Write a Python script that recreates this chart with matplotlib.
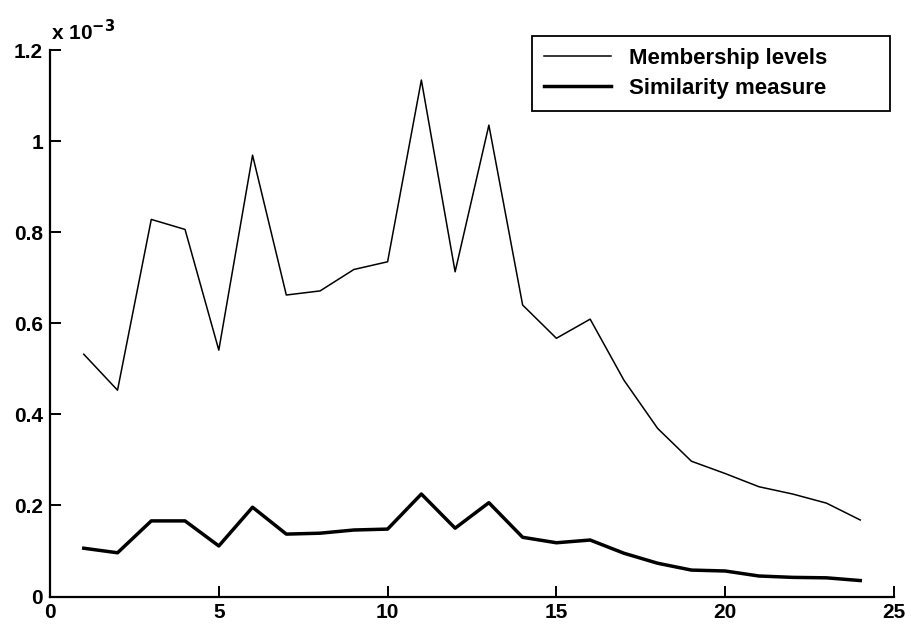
import matplotlib.pyplot as plt
import numpy as np

# values in units of 1e-3
x = np.arange(1, 25)
membership = [0.532, 0.453, 0.828, 0.806, 0.541, 0.969, 0.662, 0.671, 0.718, 0.735,
              1.134, 0.713, 1.035, 0.640, 0.567, 0.609, 0.475, 0.369, 0.297, 0.270,
              0.241, 0.225, 0.205, 0.168]
similarity = [0.106, 0.096, 0.166, 0.166, 0.111, 0.196, 0.137, 0.139, 0.146, 0.148,
              0.225, 0.150, 0.206, 0.130, 0.118, 0.124, 0.095, 0.073, 0.058, 0.056,
              0.045, 0.042, 0.041, 0.035]

plt.rcParams['font.family'] = 'Liberation Sans'
plt.rcParams['font.weight'] = 'bold'

fig = plt.figure(figsize=(9.11, 6.26), dpi=100)
ax = fig.add_axes([50/911, 1 - 596.5/626, (894 - 50)/911, (596.5 - 50)/626])

ax.plot(x, membership, color='black', lw=1.1, label='Membership levels')
ax.plot(x, similarity, color='black', lw=2.5, label='Similarity measure')

ax.set_xlim(0, 25)
ax.set_ylim(0, 1.2)
ax.set_xticks([0, 5, 10, 15, 20, 25])
ax.set_yticks([0, 0.2, 0.4, 0.6, 0.8, 1.0, 1.2])
ax.set_yticklabels(['0', '0.2', '0.4', '0.6', '0.8', '1', '1.2'])
for s in ['top', 'right']:
    ax.spines[s].set_visible(False)
for s in ['left', 'bottom']:
    ax.spines[s].set_linewidth(1.6)
ax.tick_params(direction='in', length=8, width=1.4, labelsize=15, pad=5)
for lab in ax.get_xticklabels() + ax.get_yticklabels():
    lab.set_fontweight('bold')

fig.text(51/911, 1 - 32/626, r'x 10$^{\mathbf{-3}}$', fontsize=15, fontweight='bold',
         ha='left', va='center')

# legend box spans the same area as in the original (MATLAB leaves trailing space)
leg = ax.legend(loc='upper left', bbox_to_anchor=(532/911, 1 - 108/626, 358/911, 72/626),
                bbox_transform=fig.transFigure, mode='expand', fancybox=False,
                edgecolor='black', framealpha=1, prop={'weight': 'bold', 'size': 16},
                handlelength=3.0, borderpad=0.55, labelspacing=0.4, handletextpad=0.8,
                borderaxespad=0)
leg.get_frame().set_linewidth(1.3)

fig.savefig('out.png', dpi=100)
